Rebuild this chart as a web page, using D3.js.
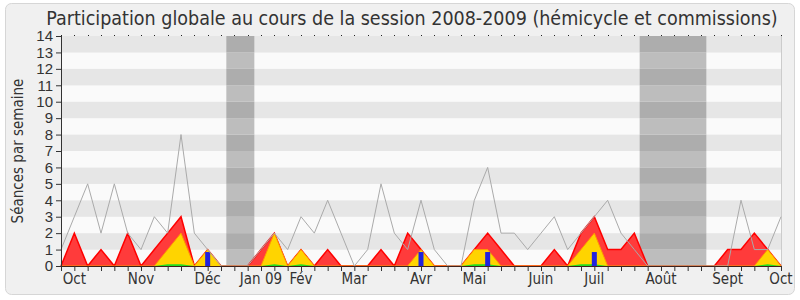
<!DOCTYPE html>
<html>
<head>
<meta charset="utf-8">
<script src="https://cdn.jsdelivr.net/npm/d3@7"></script>
<style>
  body { margin: 0; background: #fff; }
  svg { display: block; font-family: "DejaVu Sans Condensed", "DejaVu Sans", sans-serif; font-stretch: condensed; }
</style>
</head>
<body>
<div class="ParticipationPlot"></div>
<script>
// une valeur par semaine, de fin sept. 2008 a fin sept. 2009
const moyenne = [1,3,5,2,5,2,1,3,2,8,
                 2,1,0,0,0,1,2,1,3,2,
                 4,2,0,1,5,2,1,4,1,0,
                 0,4,6,2,2,1,2,3,1,2,
                 3,4,2,1,0,0,0,0,0,0,
                 0,4,1,1,3]
const presences = [0,2,0,1,0,2,0,1,2,3,
                   0,1,0,0,0,1,2,0,1,0,
                   1,0,0,0,1,0,2,1,0,0,
                   0,1,2,1,0,0,0,1,0,2,
                   3,1,1,2,0,0,0,0,0,0,
                   1,1,2,1,0]
const participations = [0,0,0,0,0,0,0,0,1,2,
                        0,1,0,0,0,0,2,0,1,0,
                        0,0,0,0,0,0,0,1,0,0,
                        0,1,1,0,0,0,0,0,0,1,
                        2,0,0,0,0,0,0,0,0,0,
                        0,0,0,1,0]
const interventions = [0,0,0,0,0,0,0,0,0.1,0.1,
                       0,0,0,0,0,0,0.1,0,0.1,0,
                       0,0,0,0,0,0,0,0,0,0,
                       0,0.1,0.1,0,0,0,0,0,0,0.1,
                       0.1,0,0,0,0,0,0,0,0,0,
                       0,0,0,0.1,0]
const questions = [0,0,0,0,0,0,0,0,0,0,
                   0,0.85,0,0,0,0,0,0,0,0,
                   0,0,0,0,0,0,0,0.85,0,0,
                   0,0,0.85,0,0,0,0,0,0,0,
                   0.85,0,0,0,0,0,0,0,0,0,
                   0,0,0,0,0]
const mois = ["Oct","Nov","Déc","Jan 09","Fév","Mar","Avr","Mai","Juin","Juil","Août","Sept","Oct"]
const moisSemaine = [1,6,11,15,18,22,27,31,36,40,45,50,54]
const vacances = [[12.4,14.5],[43.4,48.4]]

const width = 800
const height = 300
const margin = ({top: 36, right: 19, bottom: 34, left: 61})
const nbSemaines = presences.length

let x = d3.scaleLinear()
  .domain([0, nbSemaines - 1])
  .range([margin.left, width - margin.right])

let y = d3.scaleLinear()
  .domain([0, 14])
  .range([height - margin.bottom, margin.top])

d3.select('.ParticipationPlot > *').remove()
const svg = d3.select(".ParticipationPlot").append("svg")
    .attr("width", width)
    .attr("height", height)
    .attr("viewBox", [0, 0, width, height])

// cadre arrondi
svg.append("rect")
    .attr("x", 5.5).attr("y", 3.5)
    .attr("width", 789).attr("height", 291)
    .attr("rx", 6)
    .attr("fill", "#f0f0f0")
    .attr("stroke", "#d6d6d6")

// bandes horizontales
let bandes = d3.range(0, 14)
svg.append("g")
  .selectAll("rect")
  .data(bandes)
  .join("rect")
    .attr("x", x(0))
    .attr("width", x(nbSemaines - 1) - x(0))
    .attr("y", d => y(d + 1))
    .attr("height", d => y(d) - y(d + 1))
    .attr("fill", d => d % 2 ? "#e6e6e6" : "#fafafa")

// vacances parlementaires
svg.append("g")
  .selectAll("g")
  .data(vacances)
  .join("g")
  .each(function (v) {
    d3.select(this).selectAll("rect")
      .data(bandes)
      .join("rect")
        .attr("x", x(v[0]))
        .attr("width", x(v[1]) - x(v[0]))
        .attr("y", d => y(d + 1))
        .attr("height", d => y(d) - y(d + 1))
        .attr("fill", d => d % 2 ? "#adadad" : "#bdbdbd")
  })

// bord droit
svg.append("line")
    .attr("x1", x(nbSemaines - 1) + 0.5).attr("x2", x(nbSemaines - 1) + 0.5)
    .attr("y1", y(14)).attr("y2", y(0))
    .attr("stroke", "#cccccc")

const aire = d3.area()
    .x((d, i) => x(i))
    .y0(y(0))
    .y1(d => y(d))
const ligne = d3.line()
    .x((d, i) => x(i))
    .y(d => y(d))

svg.append("path")
    .datum(presences)
    .attr("fill", "#ff3b3b")
    .attr("d", aire)
svg.append("path")
    .datum(presences)
    .attr("fill", "none")
    .attr("stroke", "#ff0000")
    .attr("stroke-width", 1.5)
    .attr("d", ligne)

svg.append("path")
    .datum(participations)
    .attr("fill", "#ffd400")
    .attr("d", aire)
svg.append("path")
    .datum(participations)
    .attr("fill", "none")
    .attr("stroke", "#ff9a00")
    .attr("stroke-width", 1)
    .attr("d", ligne)

svg.append("path")
    .datum(interventions)
    .attr("fill", "#22dd22")
    .attr("d", aire)

svg.append("g")
    .attr("fill", "#2222dd")
  .selectAll("rect")
  .data(questions)
  .join("rect")
    .attr("x", (d, i) => x(i) - 2.5)
    .attr("width", 5)
    .attr("y", d => y(d))
    .attr("height", d => y(0) - y(d))

svg.append("path")
    .datum(moyenne)
    .attr("fill", "none")
    .attr("stroke", "#aaaaaa")
    .attr("stroke-width", 1)
    .attr("d", ligne)

// axes
let xAxis = g => g
    .attr("transform", `translate(0,${y(0)})`)
    .call(d3.axisBottom(x).tickValues(d3.range(0, nbSemaines)).tickSize(5).tickFormat(""))
    .call(g => g.select(".domain").attr("stroke", "#402018"))
    .call(g => g.selectAll(".tick line").attr("stroke", "#333"))

let yAxis = g => g
    .attr("transform", `translate(${margin.left},0)`)
    .call(d3.axisLeft(y).ticks(14).tickSize(5).tickPadding(3))
    .call(g => g.select(".domain").attr("stroke", "#333").attr("d", `M0.5,${y(14)}V${y(0)}`))
    .call(g => g.selectAll(".tick line").attr("stroke", "#333"))
    .call(g => g.selectAll(".tick text").attr("fill", "#333").attr("font-size", 15))

svg.append("g").call(xAxis)
svg.append("g").call(yAxis)

// petits points en haut
svg.append("g")
    .attr("fill", "#222")
  .selectAll("rect")
  .data(presences)
  .join("rect")
    .attr("x", (d, i) => Math.round(x(i)))
    .attr("y", y(14) - 1)
    .attr("width", 1)
    .attr("height", 1)

svg.append("g")
    .attr("fill", "#333")
    .attr("font-size", 15)
    .attr("text-anchor", "middle")
  .selectAll("text")
  .data(mois)
  .join("text")
    .attr("x", (d, i) => x(moisSemaine[i]))
    .attr("y", y(0) + 18)
    .text(d => d)

svg.append("text")
    .attr("text-anchor", "middle")
    .attr("fill", "#333")
    .attr("font-size", 15)
    .attr("transform", "translate(23," + ((y(0) + y(14)) / 2) + ")rotate(-90)")
    .text("Séances par semaine")

svg.append("text")
    .attr("text-anchor", "middle")
    .attr("fill", "#333")
    .attr("font-size", 19.5)
    .attr("x", 412)
    .attr("y", 25)
    .text("Participation globale au cours de la session 2008-2009 (hémicycle et commissions)")
</script>
</body>
</html>
